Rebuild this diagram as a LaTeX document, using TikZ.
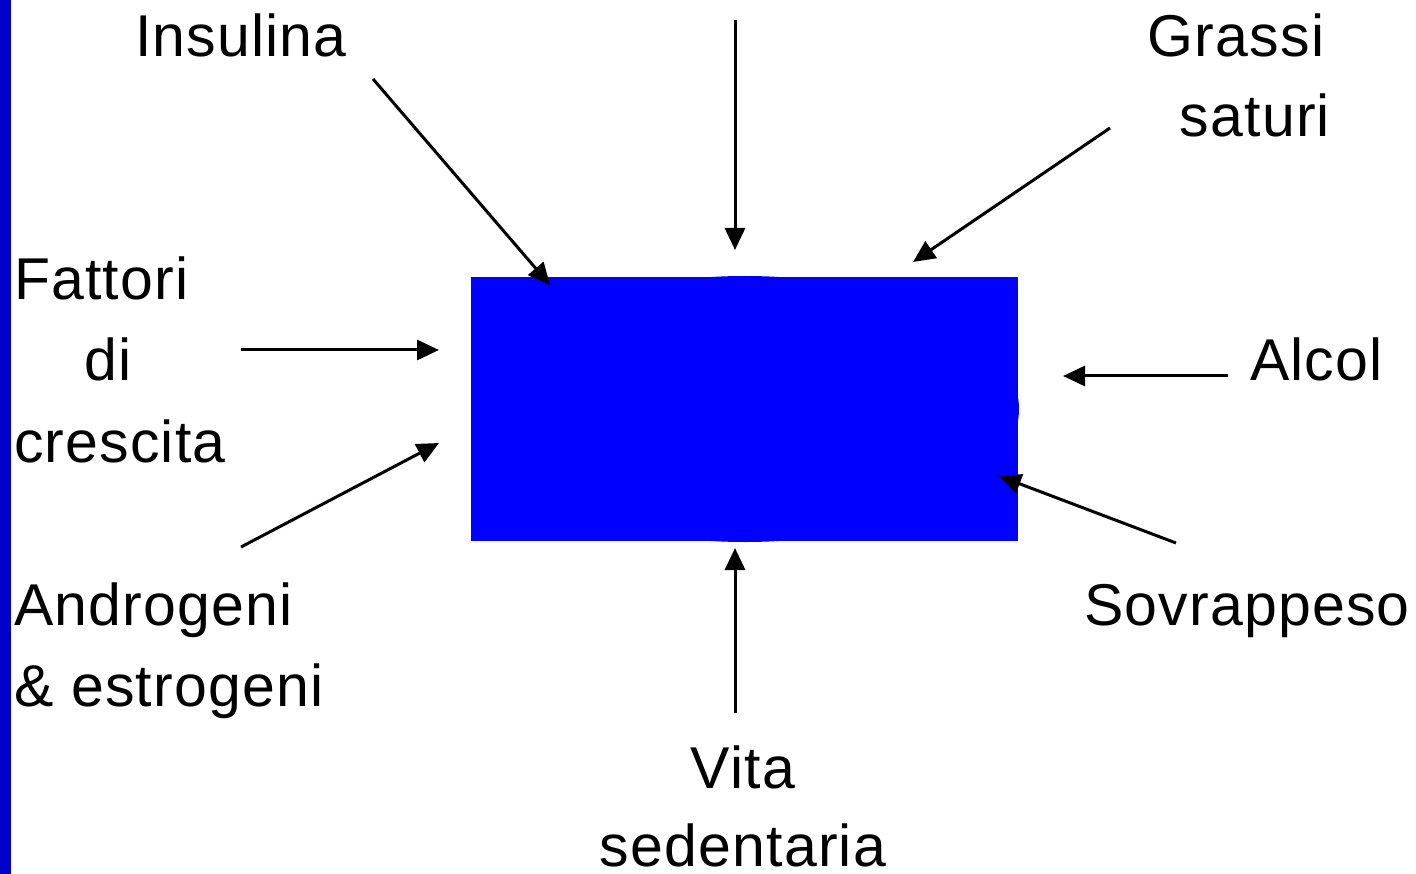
\documentclass[tikz,border=0pt]{standalone}
\usepackage{fontspec}
\setmainfont{Liberation Sans}[LetterSpace=2]
\usetikzlibrary{arrows.meta}
\definecolor{boxblue}{RGB}{0,0,255}
\definecolor{barblue}{RGB}{0,0,204}
\begin{document}
\begin{tikzpicture}[x=1pt,y=-1pt,
  lbl/.style={inner sep=0pt,font=\fontsize{59}{81}\selectfont},
  arr/.style={line width=3pt,-{Triangle[length=22pt,width=20pt]}}]
\useasboundingbox (0,0) rectangle (1416,874);
\fill[barblue] (0,0) rectangle (11,874);
% central shape
\fill[boxblue] (745,409) ellipse [x radius=274, y radius=133];
\fill[boxblue] (471,277) rectangle (1018,541);
\node[coordinate] (box) at (745,409) {};
% labels
\node[lbl,anchor=base] (ins) at (241,57) {Insulina};
\node[lbl,anchor=base] (gr1) at (1236,57) {Grassi};
\node[lbl,anchor=base] (gr2) at (1255,137) {saturi};
\node[lbl,anchor=base west] (fa1) at (14,300) {Fattori};
\node[lbl,anchor=base] (fa2) at (108,381) {di};
\node[lbl,anchor=base west] (fa3) at (14,462) {crescita};
\node[lbl,anchor=base west] (alc) at (1250,381) {Alcol};
\node[lbl,anchor=base west] (an1) at (14,625) {Androgeni};
\node[lbl,anchor=base west] (an2) at (14,706) {\& estrogeni};
\node[lbl,anchor=base east] (sov) at (1410,625) {Sovrappeso};
\node[lbl,anchor=base] (vi1) at (743,788) {Vita};
\node[lbl,anchor=base] (vi2) at (743,866) {sedentaria};
% arrow endpoints
\coordinate (a1s) at (373,79);   \coordinate (a1e) at (550,285);
\coordinate (a2s) at (735,20);   \coordinate (a2e) at (735,250);
\coordinate (a3s) at (1110,128); \coordinate (a3e) at (913,262);
\coordinate (a4s) at (241,350);  \coordinate (a4e) at (439,350);
\coordinate (a5s) at (241,547);  \coordinate (a5e) at (439,443);
\coordinate (a6s) at (1228,376); \coordinate (a6e) at (1063,376);
\coordinate (a7s) at (1176,543); \coordinate (a7e) at (999,476);
\coordinate (a8s) at (735,713);  \coordinate (a8e) at (735,548);
\draw[arr] (a1s) -- (a1e);
\draw[arr] (a2s) -- (a2e);
\draw[arr] (a3s) -- (a3e);
\draw[arr] (a4s) -- (a4e);
\draw[arr] (a5s) -- (a5e);
\draw[arr] (a6s) -- (a6e);
\draw[arr] (a7s) -- (a7e);
\draw[arr] (a8s) -- (a8e);
\end{tikzpicture}
\end{document}
